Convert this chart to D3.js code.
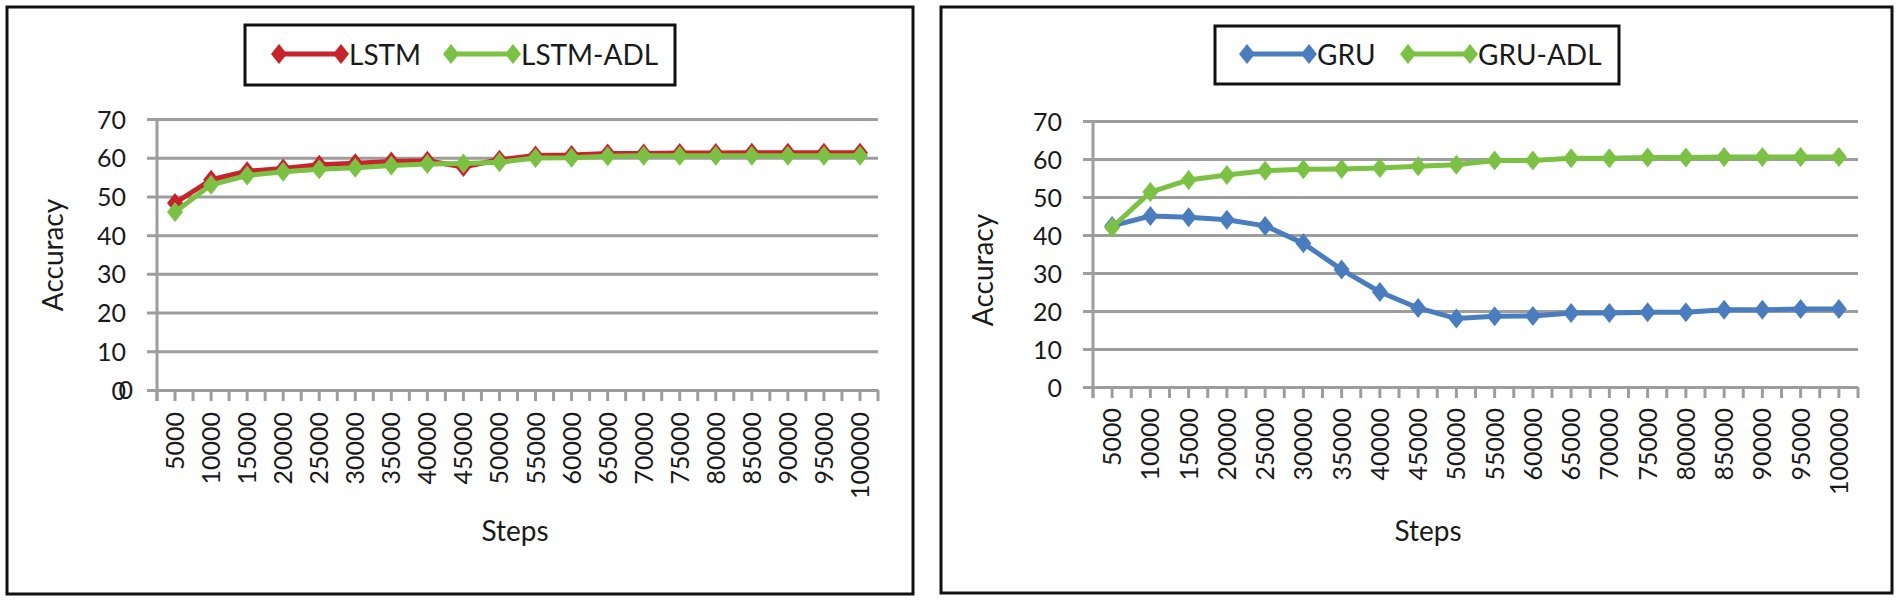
<!DOCTYPE html>
<html>
<head>
<meta charset="utf-8">
<script src="https://cdn.jsdelivr.net/npm/d3@7"></script>
<style>
  html, body { margin: 0; padding: 0; background: #fff; }
  svg { display: block; font-family: Lato, "Open Sans", sans-serif; }
</style>
</head>
<body>
<svg id="chart" width="1900" height="604"></svg>
<script>
// ---------- data ----------
const steps = [5000, 10000, 15000, 20000, 25000, 30000, 35000, 40000, 45000, 50000,
               55000, 60000, 65000, 70000, 75000, 80000, 85000, 90000, 95000, 100000];
const lstm    = [48.3, 54.3, 56.5, 57.2, 58.2, 58.6, 59.0, 59.2, 57.6, 59.5,
                 60.6, 60.7, 61.1, 61.1, 61.2, 61.2, 61.3, 61.3, 61.3, 61.3];
const lstmAdl = [46.0, 53.0, 55.4, 56.4, 57.0, 57.4, 58.0, 58.4, 58.5, 58.8,
                 59.9, 60.0, 60.4, 60.5, 60.5, 60.5, 60.5, 60.5, 60.5, 60.5];
const gru     = [42.4, 45.0, 44.7, 44.0, 42.4, 37.8, 30.9, 25.0, 20.8, 18.0,
                 18.6, 18.7, 19.5, 19.5, 19.7, 19.7, 20.3, 20.3, 20.5, 20.5];
const gruAdl  = [42.0, 51.3, 54.5, 55.8, 56.9, 57.3, 57.4, 57.6, 58.1, 58.5,
                 59.6, 59.6, 60.2, 60.2, 60.4, 60.4, 60.5, 60.5, 60.5, 60.5];
const yTicks  = [0, 10, 20, 30, 40, 50, 60, 70];
const xLabel  = "Steps";
const yLabel  = "Accuracy";

// ---------- style ----------
const RED = "#c8232a", GREEN = "#7bc143", BLUE = "#4a7dbf";
const GRID = "#9d9d9d", TEXT = "#1a1a1a";
const diamond = "M0,-10L8,0L0,10L-8,0Z";

const svg = d3.select("#chart");
svg.append("rect").attr("width", 1900).attr("height", 604).attr("fill", "#fff");

function panel(cfg) {
  const g = svg.append("g");
  // frame
  g.append("rect")
    .attr("x", cfg.frame[0]).attr("y", cfg.frame[1])
    .attr("width", cfg.frame[2] - cfg.frame[0]).attr("height", cfg.frame[3] - cfg.frame[1])
    .attr("fill", "none").attr("stroke", "#111").attr("stroke-width", 3);

  const x = d3.scaleBand().domain(steps).range([cfg.x0, cfg.x1]).paddingInner(0).paddingOuter(0);
  const bw = x.bandwidth();
  const cx = d => x(d) + bw / 2;
  const y = d3.scaleLinear().domain([0, 70]).range([cfg.yb, cfg.yt]);

  // gridlines + y labels via axis
  const ya = d3.axisLeft(y).tickValues(yTicks)
    .tickSizeInner(-(cfg.x1 - cfg.x0 + 10)).tickSizeOuter(0).tickPadding(21);
  const yg = g.append("g").attr("transform", `translate(${cfg.x0 - 10},0)`).call(ya);
  yg.select(".domain").remove();
  yg.selectAll(".tick line").attr("stroke", GRID).attr("stroke-width", 3);
  yg.selectAll(".tick text").attr("fill", TEXT).attr("font-size", 25)
    .attr("font-family", "Lato").attr("dy", "0.36em");
  if (cfg.doubleZero) {
    g.append("text").attr("x", cfg.x0 - 24).attr("y", y(0)).attr("dy", "0.36em")
      .attr("text-anchor", "end").attr("font-size", 25).attr("fill", TEXT).text("0");
  }

  // vertical axis line
  g.append("line").attr("x1", cfg.x0).attr("x2", cfg.x0)
    .attr("y1", y(70) - 1).attr("y2", y(0) + 11)
    .attr("stroke", GRID).attr("stroke-width", 3);

  // x tick marks at boundaries and centers
  const tickPos = [];
  steps.forEach(d => { tickPos.push(x(d)); tickPos.push(cx(d)); });
  tickPos.push(cfg.x1);
  g.selectAll(".xt").data(tickPos).join("line")
    .attr("x1", d => d).attr("x2", d => d)
    .attr("y1", y(0)).attr("y2", y(0) + 11)
    .attr("stroke", GRID).attr("stroke-width", 3);

  // x labels
  g.selectAll(".xl").data(steps).join("text")
    .attr("transform", d => `translate(${cx(d)},${cfg.xlTop}) rotate(-90)`)
    .attr("text-anchor", "end").attr("dy", "0.36em")
    .attr("font-size", 25).attr("fill", TEXT).text(d => d);

  // axis titles
  g.append("text").attr("x", cfg.stepsX).attr("y", 541)
    .attr("text-anchor", "middle").attr("font-size", 28).attr("fill", TEXT).text(xLabel);
  g.append("text").attr("transform", `translate(${cfg.accX},${cfg.accY}) rotate(-90)`)
    .attr("text-anchor", "middle").attr("font-size", 28).attr("fill", TEXT).text(yLabel);

  // series
  const line = d3.line().x((d, i) => cx(steps[i])).y(d => y(d));
  cfg.series.forEach(s => {
    g.append("path").datum(s.values).attr("d", line)
      .attr("fill", "none").attr("stroke", s.color).attr("stroke-width", 5)
      .attr("stroke-linejoin", "round");
    g.selectAll(null).data(s.values).join("path")
      .attr("d", diamond)
      .attr("transform", (d, i) => `translate(${cx(steps[i])},${y(d)})`)
      .attr("fill", s.color);
  });

  // legend
  const L = cfg.legend;
  g.append("rect").attr("x", L.box[0]).attr("y", L.box[1])
    .attr("width", L.box[2] - L.box[0]).attr("height", L.box[3] - L.box[1])
    .attr("fill", "#fff").attr("stroke", "#111").attr("stroke-width", 3);
  cfg.series.forEach((s, k) => {
    const a = L.items[k];
    g.append("line").attr("x1", a).attr("x2", a + 62).attr("y1", 54).attr("y2", 54)
      .attr("stroke", s.color).attr("stroke-width", 5);
    [a, a + 62].forEach(px => g.append("path").attr("d", diamond)
      .attr("transform", `translate(${px},54)`).attr("fill", s.color));
    g.append("text").attr("x", a + 70).attr("y", 65).attr("font-size", 28)
      .attr("fill", TEXT).text(s.name);
  });
}

panel({
  frame: [7, 7, 913, 594],
  x0: 157, x1: 878, yb: 390, yt: 119, xlTop: 412,
  stepsX: 515, accX: 63, accY: 255, doubleZero: true,
  series: [
    { name: "LSTM", values: lstm, color: RED },
    { name: "LSTM-ADL", values: lstmAdl, color: GREEN }
  ],
  legend: { box: [245, 25, 675, 85], items: [279, 451] }
});

panel({
  frame: [941, 7, 1892, 593],
  x0: 1093, x1: 1858, yb: 387, yt: 121, xlTop: 408,
  stepsX: 1428, accX: 993, accY: 270, doubleZero: false,
  series: [
    { name: "GRU", values: gru, color: BLUE },
    { name: "GRU-ADL", values: gruAdl, color: GREEN }
  ],
  legend: { box: [1215, 26, 1619, 84], items: [1247, 1408] }
});
</script>
</body>
</html>
